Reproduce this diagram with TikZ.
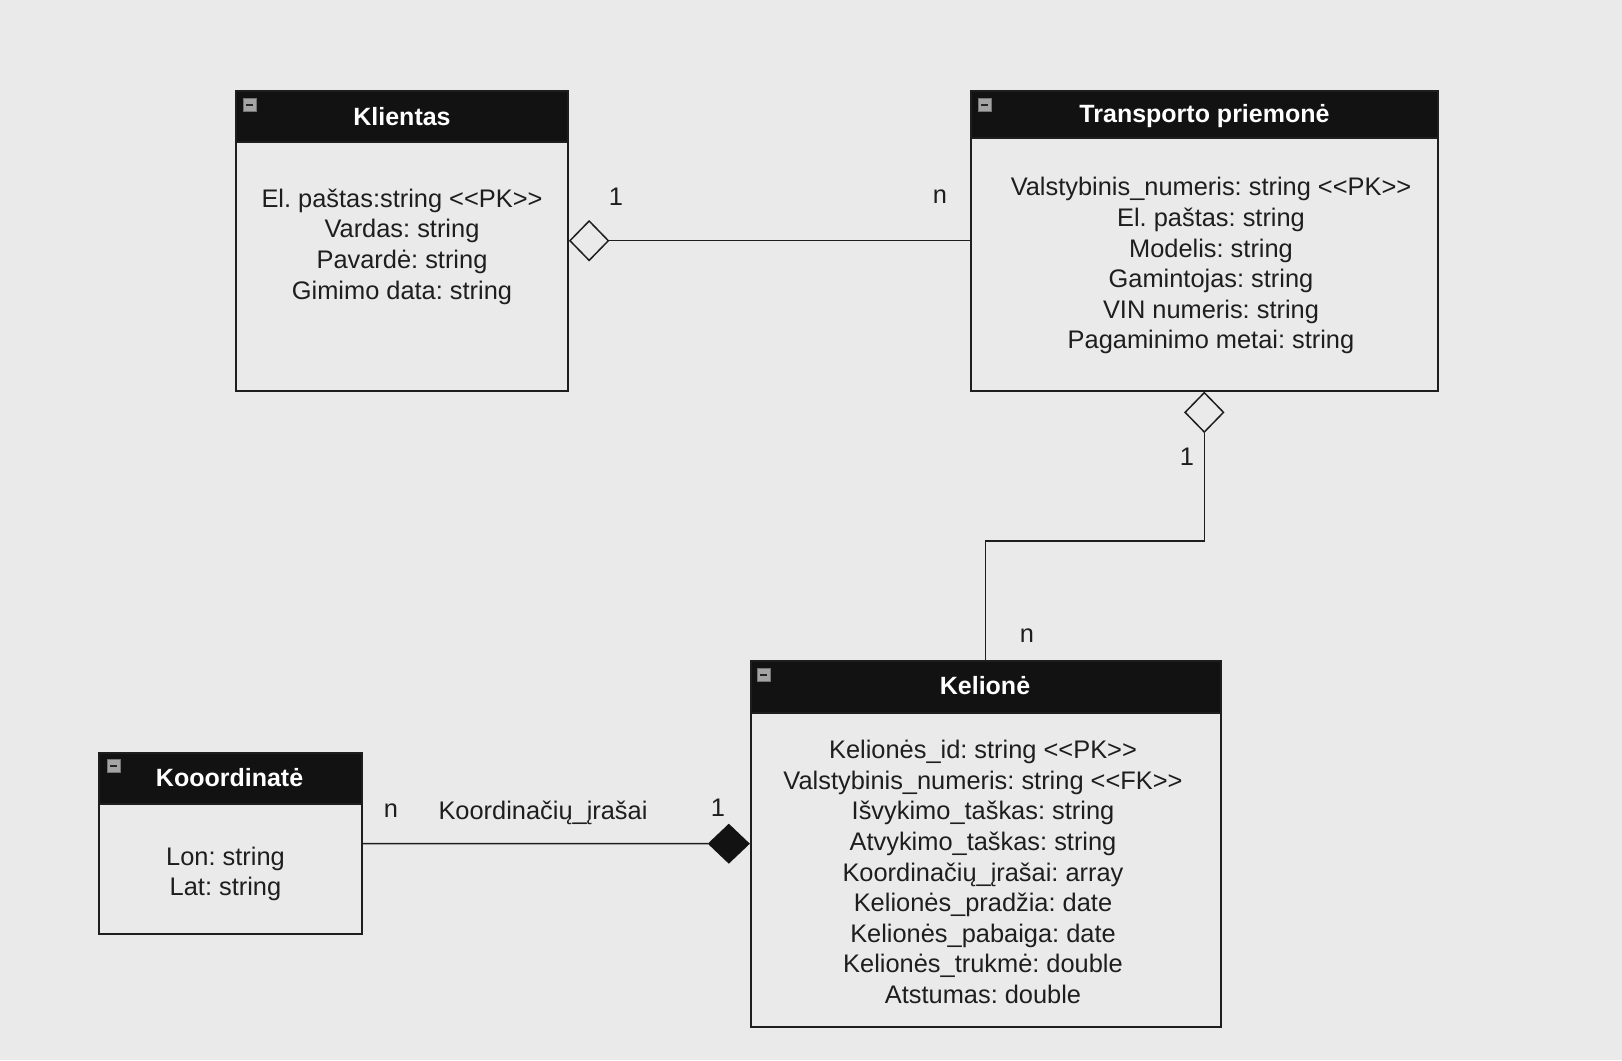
\documentclass[tikz,border=0pt]{standalone}
\usepackage{fontspec}
\setmainfont{Liberation Sans}
\usetikzlibrary{shapes.geometric,calc}
\definecolor{bg}{HTML}{EAEAEA}
\definecolor{hdr}{HTML}{121212}
\definecolor{ink}{HTML}{1E1E1E}
\definecolor{iconc}{HTML}{A4A4A4}
\newcommand\myLL{<\kern0pt<}
\newcommand\myGG{>\kern0pt>}
\frenchspacing
\begin{document}
\begin{tikzpicture}[x=1pt,y=-1pt,
  classbox/.style={draw=ink,line width=1.8pt,fill=bg,inner sep=0pt},
  header/.style={fill=hdr,draw=ink,line width=1.8pt,inner sep=0pt,anchor=north},
  title/.style={text=white,font=\fontsize{25}{30}\selectfont\bfseries,inner sep=0pt},
  attrs/.style={text=ink,font=\fontsize{25.4}{30.6}\selectfont,align=center,inner sep=0pt},
  lbl/.style={text=ink,font=\fontsize{25.4}{30.6}\selectfont,inner sep=0pt},
  conn/.style={draw=ink,line width=1.5pt},
  odiam/.style={diamond,draw=ink,fill=bg,line width=1.5pt,minimum width=39pt,minimum height=40pt,inner sep=0pt},
  fdiam/.style={diamond,draw=hdr,fill=hdr,line width=1pt,minimum width=41pt,minimum height=39pt,inner sep=0pt},
  minusicon/.style={draw=black!55,fill=iconc,minimum size=13pt,inner sep=0pt,anchor=north west,line width=0.8pt,
    path picture={\draw[black!85,line width=2pt] ([xshift=3pt]path picture bounding box.west) -- ([xshift=-3pt]path picture bounding box.east);}}
]
\useasboundingbox[fill=bg] (0,0) rectangle (1622,1060);

% Klientas
\node[classbox,minimum width=332pt,minimum height=300pt] (kl) at (402,240.7) {};
\node[header,minimum width=332pt,minimum height=51pt] (klh) at (kl.north) {};
\node[title] (klt) at (402,116.7) {Klientas};
\node[minusicon] (kli) at (243,98) {};
\node[attrs] (kla) at (402,246.5) {El. paštas:string \myLL PK\myGG\\Vardas: string\\Pavardė: string\\Gimimo data: string};

% Transporto priemone
\node[classbox,minimum width=466.7pt,minimum height=300pt] (tp) at (1204.3,240.7) {};
\node[header,minimum width=466.7pt,minimum height=47pt] (tph) at (tp.north) {};
\node[title] (tpt) at (1204.5,116.5) {Transporto priemonė};
\node[minusicon] (tpi) at (978,98) {};
\node[attrs] (tpa) at (1211,265.8) {Valstybinis\_numeris: string \myLL PK\myGG\\El. paštas: string\\Modelis: string\\Gamintojas: string\\VIN numeris: string\\Pagaminimo metai: string};

% Kelione
\node[classbox,minimum width=470pt,minimum height=366pt] (ke) at (985.7,843.7) {};
\node[header,minimum width=470pt,minimum height=52pt] (keh) at (ke.north) {};
\node[title] (ket) at (985,685.7) {Kelionė};
\node[minusicon] (kei) at (757,668) {};
\node[attrs] (kea) at (983,872) {Kelionės\_id: string \myLL PK\myGG\\Valstybinis\_numeris: string \myLL FK\myGG\\Išvykimo\_taškas: string\\Atvykimo\_taškas: string\\Koordinačių\_įrašai: array\\Kelionės\_pradžia: date\\Kelionės\_pabaiga: date\\Kelionės\_trukmė: double\\Atstumas: double};

% Kooordinate
\node[classbox,minimum width=262.7pt,minimum height=181pt] (ko) at (230.7,843.5) {};
\node[header,minimum width=262.7pt,minimum height=51pt] (koh) at (ko.north) {};
\node[title] (kot) at (229.6,778) {Kooordinatė};
\node[minusicon] (koi) at (106.5,759) {};
\node[attrs] (koa) at (225.5,874) {Lon: string\\Lat: string};

% diamonds
\node[odiam,anchor=west] (dk) at (kl.east) {};
\node[odiam,anchor=north] (dt) at (tp.south) {};
\node[fdiam,anchor=east] (df) at (ke.west) {};

% connectors
\draw[conn] (dk.east) -- (tp.west);
\coordinate (bend) at (1100,541);
\draw[conn] (dt.south) |- (bend) -| (ke.north);
\draw[conn] (ko.east) -- (df.west);

% labels
\node[lbl] (m1) at (616,197) {1};
\node[lbl] (m2) at (940,196.5) {n};
\node[lbl] (m3) at (1187,457) {1};
\node[lbl] (m4) at (1027,636) {n};
\node[lbl] (m5) at (391,811) {n};
\node[lbl] (m6) at (543,813) {Koordinačių\_įrašai};
\node[lbl] (m7) at (718,808) {1};
\end{tikzpicture}
\end{document}
